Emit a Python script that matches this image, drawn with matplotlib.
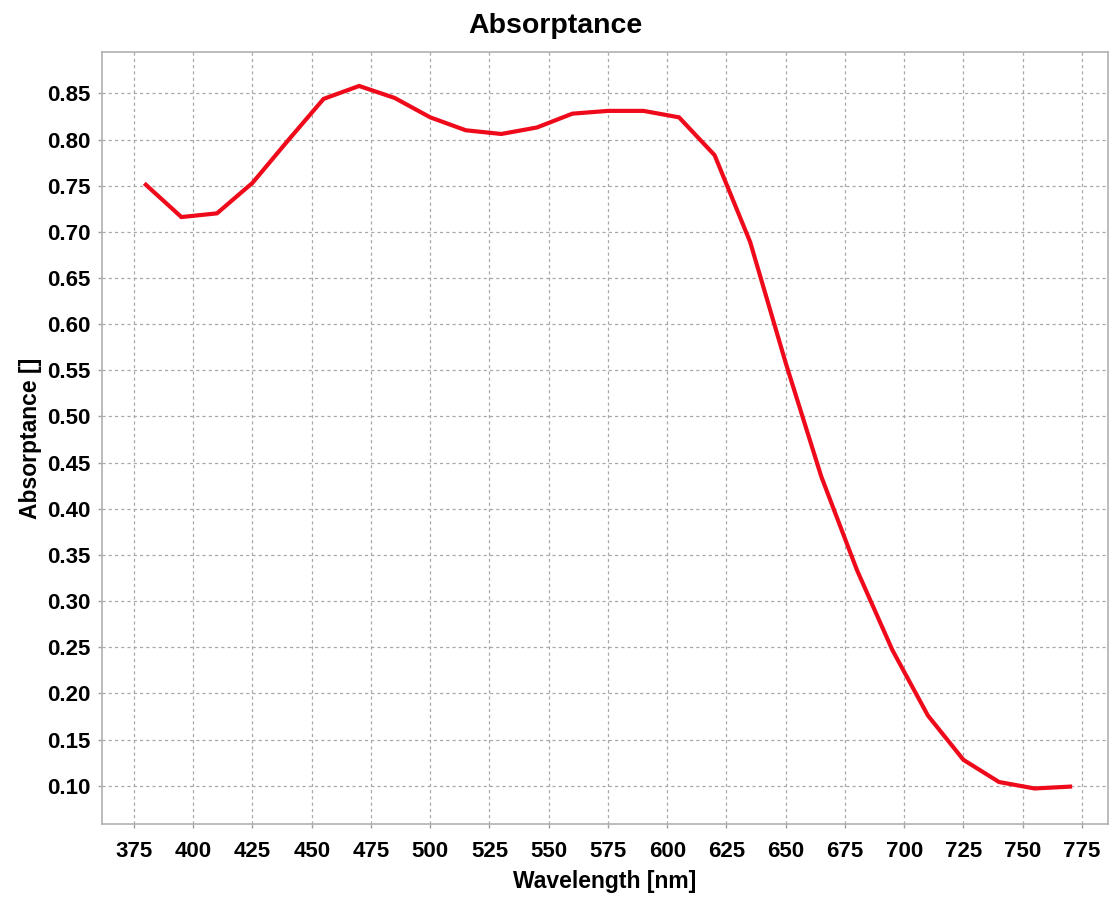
import matplotlib.pyplot as plt
import numpy as np

# wavelength in nm and absorptance
wavelength = [380, 395, 410, 425, 440, 455, 470, 485, 500, 515, 530, 545, 560, 575,
              590, 605, 620, 635, 650, 665, 680, 695, 710, 725, 740, 755, 770]
absorptance = [0.751, 0.716, 0.720, 0.753, 0.799, 0.844, 0.858, 0.845, 0.824, 0.810,
               0.806, 0.813, 0.828, 0.831, 0.831, 0.824, 0.783, 0.689, 0.558, 0.435,
               0.334, 0.247, 0.176, 0.128, 0.104, 0.097, 0.099]
xticks = np.arange(375, 776, 25)
yticks = np.round(np.arange(0.10, 0.851, 0.05), 2)

plt.rcParams['font.family'] = ['Liberation Sans', 'DejaVu Sans']

fig = plt.figure(figsize=(11.1, 8.98), dpi=100)
ax = fig.add_axes([0.0919, 0.0824, 0.9063, 0.8596])

ax.plot(wavelength, absorptance, color='#ee0a1a', linewidth=3, solid_joinstyle='miter')

ax.set_xlim(361.5, 786)
ax.set_ylim(0.0585, 0.8947)
ax.set_xticks(xticks)
ax.set_yticks(yticks)
ax.set_yticklabels([f'{v:.2f}' for v in yticks])

ax.grid(True, color='#a8a8a8', linestyle=(0, (2.5, 2.5)), linewidth=0.9)
ax.set_axisbelow(True)
for s in ax.spines.values():
    s.set_color('#b0b0b0')
    s.set_linewidth(1.2)
ax.tick_params(colors='#a0a0a0', length=3, width=1, labelcolor='black', labelsize=16)
ax.tick_params(axis='x', pad=9)
ax.tick_params(axis='y', pad=5)
for lab in ax.get_xticklabels() + ax.get_yticklabels():
    lab.set_fontweight('bold')

ax.set_xlabel('Wavelength [nm]', fontsize=16.5, fontweight='bold', labelpad=6)
ax.set_ylabel('Absorptance []', fontsize=16.5, fontweight='bold', labelpad=4)
fig.suptitle('Absorptance', fontsize=20.5, fontweight='bold', y=0.985)

fig.savefig('out.png', dpi=100)
